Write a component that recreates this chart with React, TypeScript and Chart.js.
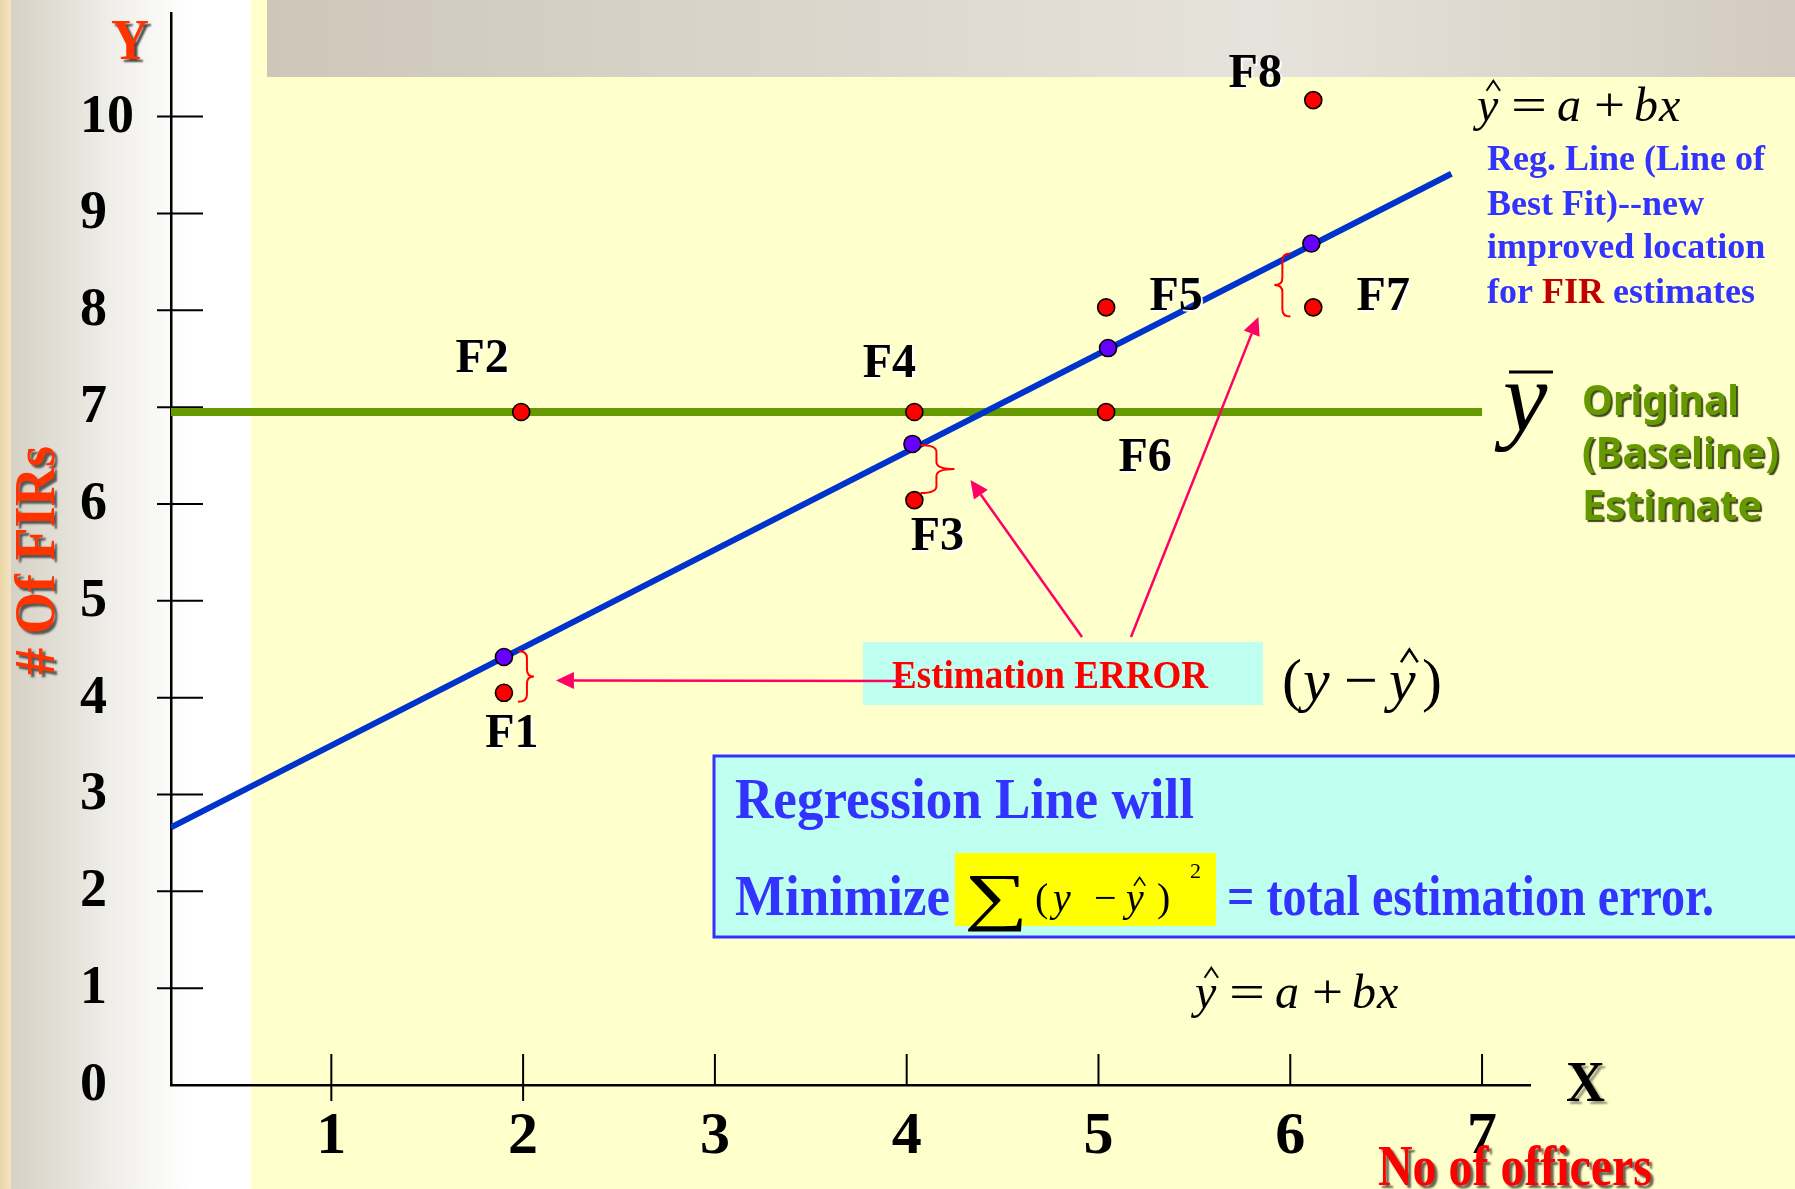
import React, { useEffect, useRef } from "react";
import { Chart, registerables } from "chart.js";

Chart.register(...registerables);

const W = 1795;
const H = 1189;

const SERIF = "'Liberation Serif', 'Times New Roman', serif";
const SANS = "'Noto Sans', 'DejaVu Sans', sans-serif";

// Observations: number of officers (x) against number of FIRs (y)
const obsLabels = ["F1", "F2", "F3", "F4", "F5", "F6", "F7", "F8"];
const obsOfficers = [1.9, 1.99, 4.04, 4.04, 5.04, 5.04, 6.12, 6.12];
const obsFirs = [4.05, 6.95, 6.04, 6.95, 8.03, 6.95, 8.03, 10.17];

// Estimates on the regression line for F1, F3, F5 and F7
const fitLabels = ["F1", "F3", "F5", "F7"];
const fitOfficers = [1.9, 4.03, 5.05, 6.11];
const fitFirs = [4.42, 6.62, 7.61, 8.69];

// Regression line y-hat = a + bx, between its two end points
const regOfficers = [0.164, 6.84];
const regFirs = [2.66, 9.41];

// Mean of y: the original (baseline) estimate
const meanOfficers = [0.164, 7.0];
const meanFirs = [6.95, 6.95];

const xTicks = [1, 2, 3, 4, 5, 6, 7];
const yTicks = [0, 1, 2, 3, 4, 5, 6, 7, 8, 9, 10];

// Label placement around each observed point: [dx, baseline dy] in px
const LABEL_OFFSETS: Record<string, [number, number]> = {
  F1: [8, 54],
  F2: [-39, -40],
  F3: [23, 50],
  F4: [-25, -35],
  F5: [70, 3],
  F6: [39, 59],
  F7: [70, 3],
  F8: [-58, -13],
};

// Error braces between an observation and its estimate on the line
const BRACES = [
  { label: "F1", side: 1, end: 14, mid: 23, tip: 30, top: -6, bot: 9, arrow: [22, 4], from: [905, 681] },
  { label: "F3", side: 1, end: 8, mid: 24, tip: 42, top: 1, bot: -7, arrow: [16, 11], from: [1082, 637] },
  { label: "F7", side: -1, end: 21, mid: 29, tip: 37, top: 10, bot: 9, arrow: [-16, 32], from: [1131, 637] },
];

type TextOpts = {
  font: string;
  color: string;
  align?: "left" | "center" | "right";
  width?: number;
  shadow?: string;
  sh?: number;
  blur?: number;
};

function drawText(ctx: CanvasRenderingContext2D, str: string, x: number, y: number, o: TextOpts) {
  ctx.save();
  ctx.font = o.font;
  ctx.fillStyle = o.color;
  ctx.textBaseline = "alphabetic";
  ctx.textAlign = "left";
  const natural = ctx.measureText(str).width;
  const w = o.width ?? natural;
  const sx = w / natural;
  let left = x;
  if (o.align === "center") left = x - w / 2;
  else if (o.align === "right") left = x - w;
  if (o.shadow) {
    ctx.shadowColor = o.shadow;
    ctx.shadowOffsetX = o.sh ?? 2;
    ctx.shadowOffsetY = o.sh ?? 2;
    ctx.shadowBlur = o.blur ?? 0;
  }
  ctx.translate(left, y);
  ctx.scale(sx, 1);
  ctx.fillText(str, 0, 0);
  ctx.restore();
}

// italic y with a circumflex hat
function drawYHat(ctx: CanvasRenderingContext2D, x: number, base: number, size: number) {
  drawText(ctx, "y", x, base, { font: `italic ${size}px ${SERIF}`, color: "#000" });
  ctx.save();
  ctx.strokeStyle = "#000";
  ctx.lineWidth = Math.max(1.4, size / 24);
  const cx = x + size * 0.34;
  const apex = base - size * 0.84;
  const wing = base - size * 0.63;
  ctx.beginPath();
  ctx.moveTo(cx - size * 0.14, wing);
  ctx.lineTo(cx, apex);
  ctx.lineTo(cx + size * 0.14, wing);
  ctx.stroke();
  ctx.restore();
}

function drawEquation(ctx: CanvasRenderingContext2D, x: number, base: number) {
  const s = 48;
  const it = `italic ${s}px ${SERIF}`;
  const up = `${s}px ${SERIF}`;
  drawYHat(ctx, x, base, s);
  drawText(ctx, "=", x + 34, base, { font: up, color: "#000", width: 36 });
  drawText(ctx, "a", x + 80, base, { font: it, color: "#000" });
  drawText(ctx, "+", x + 117, base, { font: up, color: "#000", width: 31 });
  drawText(ctx, "b", x + 157, base, { font: it, color: "#000" });
  drawText(ctx, "x", x + 182, base, { font: it, color: "#000" });
}

function drawArrow(ctx: CanvasRenderingContext2D, x1: number, y1: number, x2: number, y2: number) {
  const ang = Math.atan2(y2 - y1, x2 - x1);
  const len = 18;
  const half = 8.5;
  const bx = x2 - Math.cos(ang) * len;
  const by = y2 - Math.sin(ang) * len;
  ctx.save();
  ctx.strokeStyle = "#FF0066";
  ctx.fillStyle = "#FF0066";
  ctx.lineWidth = 2.5;
  ctx.beginPath();
  ctx.moveTo(x1, y1);
  ctx.lineTo(bx, by);
  ctx.stroke();
  ctx.beginPath();
  ctx.moveTo(x2, y2);
  ctx.lineTo(bx - Math.sin(ang) * half, by + Math.cos(ang) * half);
  ctx.lineTo(bx + Math.sin(ang) * half, by - Math.cos(ang) * half);
  ctx.closePath();
  ctx.fill();
  ctx.restore();
}

function drawBrace(ctx: CanvasRenderingContext2D, xEnd: number, xMid: number, xTip: number, yTop: number, yBot: number) {
  const yM = (yTop + yBot) / 2;
  const r = 7;
  ctx.save();
  ctx.strokeStyle = "#FF0000";
  ctx.lineWidth = 2;
  ctx.beginPath();
  ctx.moveTo(xEnd, yTop);
  ctx.quadraticCurveTo(xMid, yTop, xMid, yTop + r);
  ctx.lineTo(xMid, yM - r);
  ctx.quadraticCurveTo(xMid, yM, xTip, yM);
  ctx.quadraticCurveTo(xMid, yM, xMid, yM + r);
  ctx.lineTo(xMid, yBot - r);
  ctx.quadraticCurveTo(xMid, yBot, xEnd, yBot);
  ctx.stroke();
  ctx.restore();
}

const backdropPlugin = {
  id: "slideBackdrop",
  beforeDraw(chart: any) {
    const ctx: CanvasRenderingContext2D = chart.ctx;
    ctx.save();
    ctx.fillStyle = "#FFFFCC";
    ctx.fillRect(0, 0, W, H);
    const g = ctx.createLinearGradient(11, 0, 251, 0);
    g.addColorStop(0, "#D6D1C5");
    g.addColorStop(0.45, "#F1F0EC");
    g.addColorStop(0.75, "#FFFFFF");
    g.addColorStop(1, "#FFFFFF");
    ctx.fillStyle = g;
    ctx.fillRect(11, 0, 240, H);
    const wood = ctx.createLinearGradient(0, 0, 11, 0);
    wood.addColorStop(0, "#EAD5A8");
    wood.addColorStop(1, "#F3E3C0");
    ctx.fillStyle = wood;
    ctx.fillRect(0, 0, 11, H);
    const bar = ctx.createLinearGradient(267, 0, W, 0);
    bar.addColorStop(0, "#CEC6B9");
    bar.addColorStop(0.65, "#E6E3DC");
    bar.addColorStop(1, "#D3CBBF");
    ctx.fillStyle = bar;
    ctx.fillRect(267, 0, W - 267, 77);
    ctx.restore();
  },
  beforeDatasetsDraw(chart: any) {
    const ctx: CanvasRenderingContext2D = chart.ctx;
    const { x, y } = chart.scales;
    const area = chart.chartArea;
    ctx.save();
    ctx.strokeStyle = "#000";
    ctx.lineWidth = 2;
    x.ticks.forEach((t: any) => {
      const px = x.getPixelForValue(t.value);
      ctx.beginPath();
      ctx.moveTo(px, area.bottom - 31);
      ctx.lineTo(px, area.bottom + (t.value <= 2 ? 16 : 0));
      ctx.stroke();
    });
    y.ticks.forEach((t: any) => {
      if (t.value === 0) return;
      const py = y.getPixelForValue(t.value);
      ctx.beginPath();
      ctx.moveTo(area.left - 14, py);
      ctx.lineTo(area.left + 32, py);
      ctx.stroke();
    });
    ctx.restore();
  },
};

const annotationPlugin = {
  id: "regressionNotes",
  afterDraw(chart: any) {
    const ctx: CanvasRenderingContext2D = chart.ctx;
    const { x, y } = chart.scales;
    const obsPx = (label: string) => {
      const i = obsLabels.indexOf(label);
      return [x.getPixelForValue(obsOfficers[i]), y.getPixelForValue(obsFirs[i])];
    };
    const fitPx = (label: string) => {
      const i = fitLabels.indexOf(label);
      return [x.getPixelForValue(fitOfficers[i]), y.getPixelForValue(fitFirs[i])];
    };

    // axis names
    drawText(ctx, "Y", 111, 59, { font: `bold 56px ${SERIF}`, color: "#FF3300", width: 38, shadow: "rgba(0,0,0,0.7)", sh: 3, blur: 2 });
    drawText(ctx, "X", 1566, 1101, { font: `bold 58px ${SERIF}`, color: "#000", width: 39, shadow: "rgba(0,0,0,0.4)", sh: 3, blur: 2 });
    ctx.save();
    ctx.translate(54, 675);
    ctx.rotate(-Math.PI / 2);
    drawText(ctx, "# Of FIRs", 0, 0, { font: `bold 58px ${SERIF}`, color: "#FF3300", width: 229, shadow: "rgba(0,0,0,0.6)", sh: 3, blur: 2 });
    ctx.restore();
    drawText(ctx, "No of officers", 1378, 1185, { font: `bold 58px ${SERIF}`, color: "#FF0000", width: 274, shadow: "rgba(0,0,0,0.6)", sh: 3, blur: 2 });

    // point labels
    obsLabels.forEach((lab) => {
      const [px, py] = obsPx(lab);
      const [dx, dy] = LABEL_OFFSETS[lab];
      drawText(ctx, lab, px + dx, py + dy, { font: `bold 48px ${SERIF}`, color: "#000", align: "center", shadow: "#FFFFFF", sh: 2, blur: 1 });
    });

    // braces between estimate and observation
    BRACES.forEach((b) => {
      const [fx, fy] = fitPx(b.label);
      const [, oy] = obsPx(b.label);
      drawBrace(ctx, fx + b.side * b.end, fx + b.side * b.mid, fx + b.side * b.tip, fy + b.top, oy + b.bot);
    });

    // estimation error label box
    ctx.fillStyle = "#BFFFEF";
    ctx.fillRect(863, 642, 400, 63);
    drawText(ctx, "Estimation ERROR", 892, 688, { font: `bold 40px ${SERIF}`, color: "#FF0000", width: 316 });

    BRACES.forEach((b) => {
      const [fx, fy] = fitPx(b.label);
      const [, oy] = obsPx(b.label);
      const tipX = fx + b.side * b.tip;
      const tipY = (fy + b.top + oy + b.bot) / 2;
      drawArrow(ctx, b.from[0], b.from[1], tipX + b.arrow[0], tipY + b.arrow[1]);
    });

    // (y - y-hat)
    const p = 60;
    drawText(ctx, "(", 1282, 700, { font: `${p}px ${SERIF}`, color: "#000" });
    drawText(ctx, "y", 1303, 700, { font: `italic ${p}px ${SERIF}`, color: "#000" });
    drawText(ctx, "\u2212", 1344, 700, { font: `${p}px ${SERIF}`, color: "#000" });
    drawYHat(ctx, 1389, 700, p);
    drawText(ctx, ")", 1422, 700, { font: `${p}px ${SERIF}`, color: "#000" });

    // equations of the line
    drawEquation(ctx, 1477, 121);
    drawEquation(ctx, 1195, 1008);

    // y-bar
    drawText(ctx, "y", 1503, 431, { font: `italic 100px ${SERIF}`, color: "#000" });
    ctx.save();
    ctx.strokeStyle = "#000";
    ctx.lineWidth = 3;
    ctx.beginPath();
    ctx.moveTo(1509, 372);
    ctx.lineTo(1553, 372);
    ctx.stroke();
    ctx.restore();

    // baseline caption
    const gf = `bold 42px ${SANS}`;
    const gs = { color: "#669900", shadow: "rgba(30,40,0,0.85)", sh: 2, blur: 1 };
    drawText(ctx, "Original", 1582, 415, { font: gf, width: 157, ...gs });
    drawText(ctx, "(Baseline)", 1582, 467, { font: gf, width: 197, ...gs });
    drawText(ctx, "Estimate", 1582, 520, { font: gf, width: 180, ...gs });

    // regression line caption
    const bf = `bold 36px ${SERIF}`;
    const blue = "#3333FF";
    drawText(ctx, "Reg. Line (Line of", 1487, 170, { font: bf, color: blue });
    drawText(ctx, "Best Fit)--new", 1487, 215, { font: bf, color: blue });
    drawText(ctx, "improved location", 1487, 258, { font: bf, color: blue });
    ctx.save();
    ctx.font = bf;
    const wFor = ctx.measureText("for ").width;
    const wFir = ctx.measureText("FIR").width;
    ctx.restore();
    drawText(ctx, "for ", 1487, 303, { font: bf, color: blue });
    drawText(ctx, "FIR", 1487 + wFor, 303, { font: bf, color: "#C00000" });
    drawText(ctx, " estimates", 1487 + wFor + wFir, 303, { font: bf, color: blue });

    // summary box
    ctx.save();
    ctx.fillStyle = "#BFFFEF";
    ctx.fillRect(714, 756, 1100, 181);
    ctx.strokeStyle = "#3333FF";
    ctx.lineWidth = 3;
    ctx.strokeRect(714, 756, 1100, 181);
    ctx.fillStyle = "#FFFF00";
    ctx.fillRect(955, 853, 261, 73);
    ctx.restore();
    const sf = `bold 58px ${SERIF}`;
    drawText(ctx, "Regression Line will", 735, 818, { font: sf, color: blue, width: 459 });
    drawText(ctx, "Minimize", 735, 915, { font: sf, color: blue, width: 215 });
    drawText(ctx, "= total estimation error.", 1227, 915, { font: sf, color: blue, width: 487 });
    drawText(ctx, "\u2211", 964, 918, { font: `64px ${SERIF}`, color: "#000", width: 64 });
    const q = 40;
    drawText(ctx, "(", 1035, 911, { font: `${q}px ${SERIF}`, color: "#000" });
    drawText(ctx, "y", 1053, 911, { font: `italic ${q}px ${SERIF}`, color: "#000" });
    drawText(ctx, "\u2212", 1094, 911, { font: `${q}px ${SERIF}`, color: "#000" });
    drawYHat(ctx, 1126, 911, q);
    drawText(ctx, ")", 1157, 911, { font: `${q}px ${SERIF}`, color: "#000" });
    drawText(ctx, "2", 1190, 878, { font: `22px ${SERIF}`, color: "#000" });
  },
};

export default function App() {
  const canvasRef = useRef<HTMLCanvasElement | null>(null);

  useEffect(() => {
    document.body.style.margin = "0";
    const canvas = canvasRef.current;
    if (!canvas) return;
    const pts = (xs: number[], ys: number[]) => xs.map((v, i) => ({ x: v, y: ys[i] }));
    const chart = new Chart(canvas, {
      type: "scatter",
      data: {
        datasets: [
          {
            label: "Observed FIRs",
            data: pts(obsOfficers, obsFirs),
            backgroundColor: "#FF0000",
            borderColor: "#000000",
            borderWidth: 1.6,
            pointRadius: 8.5,
          },
          {
            label: "Estimated FIRs",
            data: pts(fitOfficers, fitFirs),
            backgroundColor: "#6600FF",
            borderColor: "#000000",
            borderWidth: 1.6,
            pointRadius: 8.5,
          },
          {
            type: "line",
            label: "Regression line",
            data: pts(regOfficers, regFirs),
            borderColor: "#0033CC",
            borderWidth: 6,
            pointRadius: 0,
            showLine: true,
            fill: false,
            tension: 0,
          } as any,
          {
            type: "line",
            label: "Mean of y",
            data: pts(meanOfficers, meanFirs),
            borderColor: "#669900",
            borderWidth: 8,
            pointRadius: 0,
            showLine: true,
            fill: false,
            tension: 0,
          } as any,
        ],
      },
      options: {
        animation: false,
        responsive: false,
        devicePixelRatio: 1,
        layout: { padding: { left: 80, top: 13, right: 265, bottom: 0 } },
        plugins: { legend: { display: false }, tooltip: { enabled: false } },
        scales: {
          x: {
            type: "linear",
            min: 0.164,
            max: 7.25,
            afterBuildTicks: (s: any) => {
              s.ticks = xTicks.map((v) => ({ value: v }));
            },
            afterFit: (s: any) => {
              s.height = 104;
              s.paddingLeft = 0;
              s.paddingRight = 0;
            },
            grid: { display: false, drawTicks: false },
            border: { display: true, color: "#000", width: 2.5 },
            ticks: {
              font: { family: SERIF, size: 60, weight: "bold" },
              color: "#000",
              padding: 16,
              maxRotation: 0,
            },
          },
          y: {
            type: "linear",
            min: 0,
            max: 11.07,
            afterBuildTicks: (s: any) => {
              s.ticks = yTicks.map((v) => ({ value: v }));
            },
            afterFit: (s: any) => {
              s.width = 91;
              s.paddingTop = 0;
              s.paddingBottom = 0;
            },
            grid: { display: false, drawTicks: false },
            border: { display: true, color: "#000", width: 2.5 },
            ticks: {
              font: { family: SERIF, size: 54, weight: "bold" },
              color: "#000",
              crossAlign: "far",
              labelOffset: 1,
            },
          },
        },
      } as any,
      plugins: [backdropPlugin, annotationPlugin],
    });
    return () => chart.destroy();
  }, []);

  return (
    <div style={{ position: "fixed", left: 0, top: 0, width: W, height: H, overflow: "hidden" }}>
      <canvas ref={canvasRef} width={W} height={H} style={{ display: "block", width: W, height: H }} />
    </div>
  );
}
